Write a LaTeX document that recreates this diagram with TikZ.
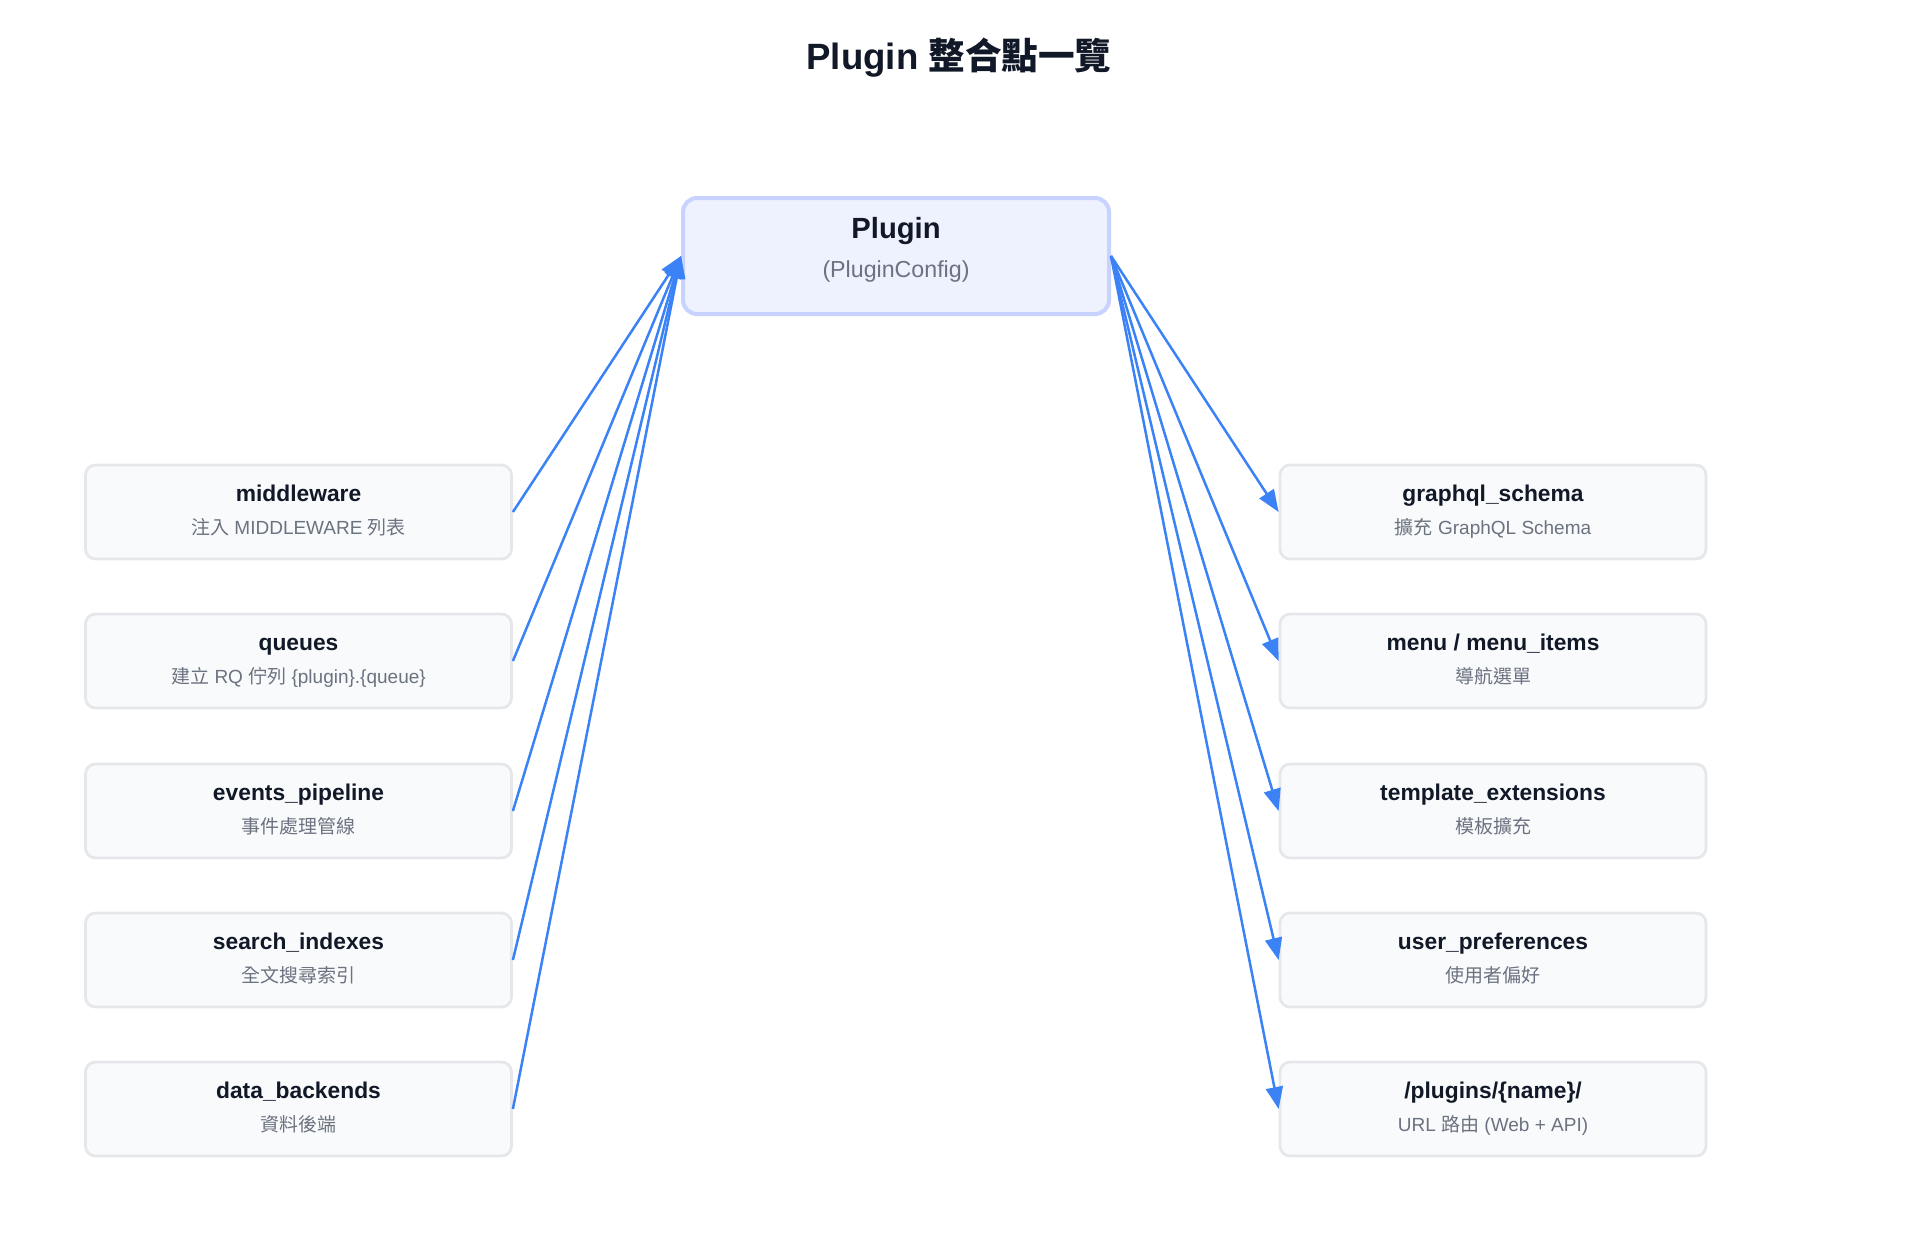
\documentclass[tikz,border=0pt]{standalone}
\usepackage{fontspec}
\setmainfont{Liberation Sans}
\newfontfamily\cjk{Noto Sans CJK TC}
\usetikzlibrary{arrows.meta}
\definecolor{ink}{HTML}{111827}
\definecolor{subink}{HTML}{6B7280}
\definecolor{boxfill}{HTML}{F9FAFB}
\definecolor{boxline}{HTML}{E5E7EB}
\definecolor{corefill}{HTML}{EEF2FF}
\definecolor{coreline}{HTML}{C7D2FE}
\definecolor{link}{HTML}{3B82F6}
\tikzset{item/.style={draw=boxline, fill=boxfill, line width=1.4pt, rounded corners=5pt,
    minimum width=213pt, minimum height=47pt, inner sep=0pt, align=center, text=subink,
    font=\fontsize{9.5}{16.6}\selectfont},
  core/.style={draw=coreline, fill=corefill, line width=2pt, rounded corners=7pt,
    minimum width=213pt, minimum height=58pt, inner sep=0pt, align=center, text=subink,
    font=\fontsize{11.6}{19.5}\selectfont},
  wire/.style={draw=link, line width=1.25pt, -{Triangle[length=11pt, width=8.5pt]}}}
% heading + description, with struts so every box sets its text alike
\newcommand{\two}[2]{{\fontsize{11.4}{16.6}\selectfont\bfseries\color{ink}\vphantom{Ag}#1}\\
  \vphantom{Ag{\cjk 漢}}#2}

\begin{document}
\begin{tikzpicture}[x=0.5pt, y=-0.5pt]
  \useasboundingbox (0,0) rectangle (1920,1238);
  % title
  \node[text=ink, font=\fontsize{18.3}{22}\selectfont\bfseries] (title) at (959,58) {Plugin {\cjk 整合點一覽}};
  % plugin box
  \node[core] (plugin) at (896,256) {};
  \node[core, draw=none, fill=none, yshift=3pt] (pluginlbl) at (plugin.center)
    {{\fontsize{14.6}{19.5}\selectfont\bfseries\color{ink}\vphantom{Ag}Plugin}\\\vphantom{Ag}(PluginConfig)};
  % left column
  \node[item] (mw) at (298.5,512) {\two{middleware}{{\cjk 注入} MIDDLEWARE {\cjk 列表}}};
  \node[item] (queues) at (298.5,661) {\two{queues}{{\cjk 建立} RQ {\cjk 佇列} \{plugin\}.\{queue\}}};
  \node[item] (events) at (298.5,811) {\two{events\_pipeline}{{\cjk 事件處理管線}}};
  \node[item] (search) at (298.5,960) {\two{search\_indexes}{{\cjk 全文搜尋索引}}};
  \node[item] (backends) at (298.5,1109) {\two{data\_backends}{{\cjk 資料後端}}};
  % right column
  \node[item] (graphql) at (1493,512) {\two{graphql\_schema}{{\cjk 擴充} GraphQL Schema}};
  \node[item] (menu) at (1493,661) {\two{menu / menu\_items}{{\cjk 導航選單}}};
  \node[item] (tmpl) at (1493,811) {\two{template\_extensions}{{\cjk 模板擴充}}};
  \node[item] (prefs) at (1493,960) {\two{user\_preferences}{{\cjk 使用者偏好}}};
  \node[item] (urls) at (1493,1109) {\two{/plugins/\{name\}/}{URL {\cjk 路由} (Web + API)}};
  % links
  \foreach \n in {mw,queues,events,search,backends}
    \draw[wire] (\n.east) -- (plugin.west);
  \foreach \n in {graphql,menu,tmpl,prefs,urls}
    \draw[wire] (plugin.east) -- (\n.west);
\end{tikzpicture}
\end{document}
